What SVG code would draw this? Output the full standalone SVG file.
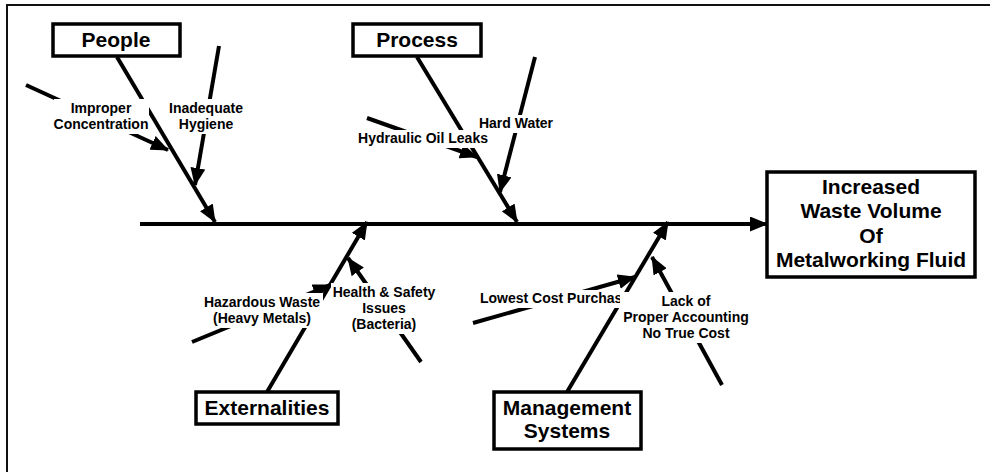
<svg xmlns="http://www.w3.org/2000/svg" width="990" height="472" viewBox="0 0 990 472">
  <style>
    .frame { stroke: #111; stroke-width: 2; fill: none; }
    .box { fill: #fff; stroke: #000; stroke-width: 3.5; }
    .cause { stroke: #000; stroke-width: 4; fill: none; marker-end: url(#ah); }
    .head { font-family: "Liberation Sans", Arial, sans-serif; font-weight: bold; font-size: 21px; text-anchor: middle; fill: #000; }
    .lbl { font-family: "Liberation Sans", Arial, sans-serif; font-weight: bold; font-size: 14px; text-anchor: middle; fill: #000; }
    .lbl-start { text-anchor: start; }
    .mask { fill: #fff; stroke: none; }
  </style>
  <defs>
    <marker id="ah" viewBox="0 0 18 15" refX="17" refY="7.5" markerWidth="18" markerHeight="15" orient="auto" markerUnits="userSpaceOnUse">
      <path d="M0,0 L18,7.5 L0,15 z" fill="#000"/>
    </marker>
  </defs>

  <rect width="990" height="472" fill="#fff"/>
  <!-- page frame (top and left edges) -->
  <path class="frame" d="M7,472 V5 H990"/>

  <g id="connectors">
    <!-- spine -->
    <line class="cause" x1="140" y1="224" x2="767" y2="224"/>
    <!-- category bones -->
    <line class="cause" x1="117" y1="57" x2="215" y2="222"/>
    <line class="cause" x1="417" y1="57" x2="517" y2="222"/>
    <line class="cause" x1="267" y1="392" x2="367" y2="222"/>
    <line class="cause" x1="567" y1="392" x2="668" y2="222"/>
    <!-- cause arrows -->
    <line class="cause" x1="26" y1="85" x2="168" y2="150"/>
    <line class="cause" x1="219" y1="46" x2="195" y2="185"/>
    <line class="cause" x1="367" y1="118" x2="477" y2="157"/>
    <line class="cause" x1="535" y1="57" x2="500" y2="192"/>
    <line class="cause" x1="192" y1="342" x2="330" y2="285"/>
    <line class="cause" x1="421" y1="362" x2="348" y2="258"/>
    <line class="cause" x1="473" y1="323" x2="635" y2="277"/>
    <line class="cause" x1="722" y1="385" x2="652" y2="257"/>
  </g>

  <g id="people">
    <rect class="box" x="53" y="24" width="127" height="32"/>
    <text class="head" x="116" y="47">People</text>
  </g>
  <g id="process">
    <rect class="box" x="353" y="24" width="128" height="32"/>
    <text class="head" x="417" y="47">Process</text>
  </g>
  <g id="externalities">
    <rect class="box" x="196" y="392" width="142" height="32"/>
    <text class="head" x="267" y="415">Externalities</text>
  </g>
  <g id="management-systems">
    <rect class="box" x="494" y="392" width="147" height="57"/>
    <text class="head" x="567" y="415">Management</text>
    <text class="head" x="567" y="438">Systems</text>
  </g>
  <g id="effect">
    <rect class="box" x="767" y="172" width="208" height="105"/>
    <text class="head" x="871" y="194">Increased</text>
    <text class="head" x="871" y="218">Waste Volume</text>
    <text class="head" x="871" y="243">Of</text>
    <text class="head" x="871" y="267">Metalworking Fluid</text>
  </g>

  <g id="improper-concentration">
    <rect class="mask" x="54" y="99" width="95" height="35"/>
    <text class="lbl" x="101" y="113">Improper</text>
    <text class="lbl" x="101" y="129">Concentration</text>
  </g>
  <g id="inadequate-hygiene">
    <rect class="mask" x="168" y="99" width="77" height="35"/>
    <text class="lbl" x="206" y="113">Inadequate</text>
    <text class="lbl" x="206" y="129">Hygiene</text>
  </g>
  <g id="hydraulic-oil-leaks">
    <rect class="mask" x="356" y="130" width="134" height="18"/>
    <text class="lbl" x="423" y="143">Hydraulic Oil Leaks</text>
  </g>
  <g id="hard-water">
    <rect class="mask" x="476" y="115" width="80" height="18"/>
    <text class="lbl" x="516" y="128">Hard Water</text>
  </g>
  <g id="hazardous-waste">
    <rect class="mask" x="201" y="293" width="122" height="35"/>
    <text class="lbl" x="262" y="307">Hazardous Waste</text>
    <text class="lbl" x="262" y="323">(Heavy Metals)</text>
  </g>
  <g id="health-safety">
    <rect class="mask" x="331" y="283" width="107" height="51"/>
    <text class="lbl" x="384" y="297">Health &amp; Safety</text>
    <text class="lbl" x="384" y="313">Issues</text>
    <text class="lbl" x="384" y="329">(Bacteria)</text>
  </g>
  <g id="lowest-cost-purchase">
    <rect class="mask" x="477" y="290" width="147" height="18"/>
    <text class="lbl lbl-start" x="480" y="303">Lowest Cost Purchas</text>
  </g>
  <g id="lack-of-accounting">
    <rect class="mask" x="620" y="292" width="131" height="51"/>
    <text class="lbl" x="686" y="306">Lack of</text>
    <text class="lbl" x="686" y="322">Proper Accounting</text>
    <text class="lbl" x="686" y="338">No True Cost</text>
  </g>
</svg>
